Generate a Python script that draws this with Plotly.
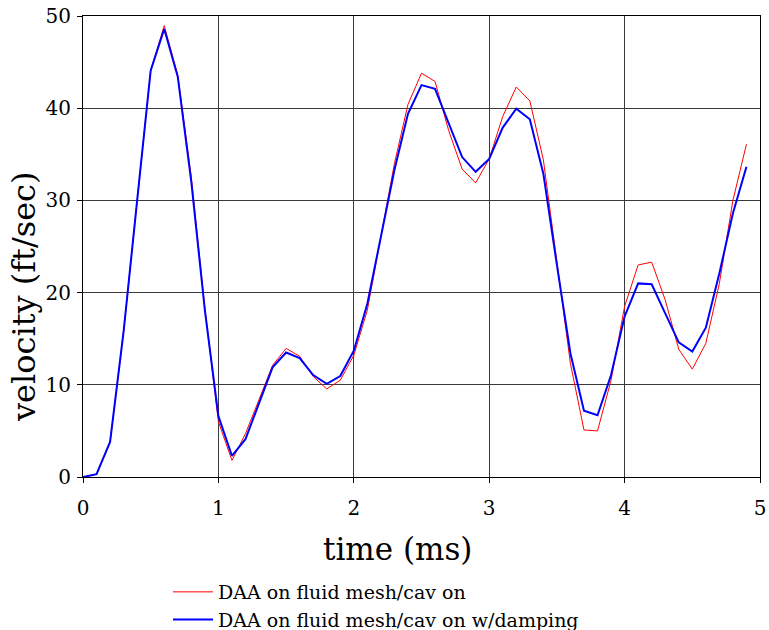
import plotly.graph_objects as go

time_ms = [round(0.1 * i, 1) for i in range(50)]
red_cav_on = [0.0, 0.3, 3.8, 15.8, 30.0, 44.1, 48.95, 43.6, 32.5, 18.3,
              6.0, 1.8, 4.7, 8.5, 12.1, 13.95, 13.1, 10.9, 9.55, 10.5,
              13.2, 18.1, 26.0, 34.0, 40.4, 43.8, 42.9, 37.6, 33.4, 31.9,
              34.5, 39.1, 42.3, 40.8, 34.4, 23.5, 12.3, 5.1, 5.0, 10.5,
              18.5, 23.0, 23.3, 19.2, 13.85, 11.7, 14.5, 21.0, 30.0, 36.1]
blue_damping = [0.0, 0.3, 3.8, 15.8, 30.0, 44.1, 48.6, 43.4, 32.0, 18.1,
                6.6, 2.3, 4.1, 8.0, 11.9, 13.5, 12.9, 11.06, 10.1, 10.95,
                13.7, 18.8, 26.1, 33.3, 39.4, 42.5, 42.1, 38.4, 34.7, 33.1,
                34.5, 37.9, 39.95, 38.8, 32.9, 23.0, 13.4, 7.2, 6.7, 11.06,
                17.4, 21.0, 20.9, 17.75, 14.6, 13.6, 16.2, 22.1, 28.6, 33.65]
x_ticks = [0, 1, 2, 3, 4, 5]
y_ticks = [0, 10, 20, 30, 40, 50]
x_title = "time (ms)"
y_title = "velocity (ft/sec)"

font_family = "DejaVu Serif"

fig = go.Figure()
fig.add_trace(go.Scatter(x=time_ms, y=red_cav_on, mode="lines",
                         name="DAA on fluid mesh/cav on",
                         line=dict(color="#ff0000", width=1)))
fig.add_trace(go.Scatter(x=time_ms, y=blue_damping, mode="lines",
                         name="DAA on fluid mesh/cav on w/damping",
                         line=dict(color="#0000ff", width=2)))

axis_common = dict(showline=True, linecolor="#000000", linewidth=1.2, mirror=True,
                   showgrid=True, gridcolor="#3a3a3a", gridwidth=1.3,
                   zeroline=False, ticks="outside", ticklen=5, tickcolor="#000000",
                   automargin=False,
                   tickfont=dict(family=font_family, size=20, color="#000000"))

fig.update_xaxes(range=[0, 5], tickvals=x_ticks, ticklabelstandoff=8, **axis_common)
fig.update_yaxes(range=[0, 50], tickvals=y_ticks, ticklabelstandoff=2, **axis_common)

fig.add_annotation(text=x_title, xref="paper", yref="paper",
                   x=(397 - 83) / 677, y=(477 - 549) / 461,
                   xanchor="center", yanchor="middle", showarrow=False,
                   font=dict(family=font_family, size=31, color="#000000"))
fig.add_annotation(text=y_title, xref="paper", yref="paper", textangle=-90,
                   x=(24 - 83) / 677, y=(477 - 297) / 461,
                   xanchor="center", yanchor="middle", showarrow=False,
                   font=dict(family=font_family, size=32, color="#000000"))

fig.update_layout(
    width=769, height=630,
    margin=dict(l=83, r=9, t=16, b=153, autoexpand=False),
    plot_bgcolor="#ffffff", paper_bgcolor="#ffffff",
    font=dict(family=font_family, color="#000000"),
    showlegend=True,
    legend=dict(orientation="v", x=(168 - 83) / 677, xanchor="left",
                y=(477 - 573) / 461, yanchor="top",
                font=dict(family=font_family, size=19, color="#000000"),
                bgcolor="rgba(0,0,0,0)", itemwidth=40, tracegroupgap=0),
)

fig.write_html("out.html", config={"displayModeBar": False},
               post_script="document.body.style.margin='0';document.body.style.overflow='hidden';")
